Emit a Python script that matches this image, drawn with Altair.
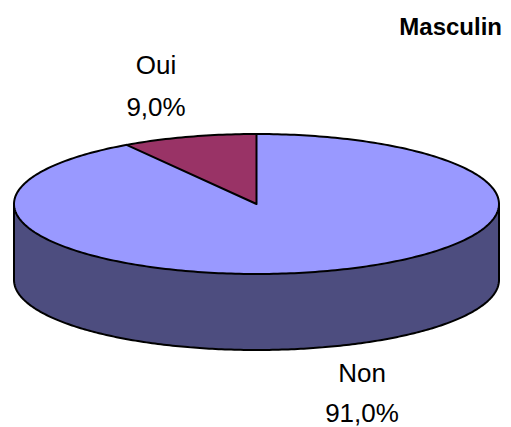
import numpy as np
import pandas as pd
import altair as alt

categories = ["Non", "Oui"]
shares = [91.0, 9.0]
share_labels = ["91,0%", "9,0%"]
title_text = "Masculin"

NON, OUI, SIDE = "#9999FF", "#993366", "#4D4D7F"
W, H = 495, 419
RX, RY, DEPTH = 242.5, 70.0, 76.0
CX, CY = 248.5, 196.0
tilt = RY / RX
depth = DEPTH / RX

xs = alt.Scale(domain=[-CX / RX, (W - CX) / RX], nice=False, zero=False)
ys = alt.Scale(domain=[-(H - CY) / RX, CY / RX], nice=False, zero=False)
X = alt.X("x:Q", scale=xs, axis=None)
Y = alt.Y("y:Q", scale=ys, axis=None)
Y2 = alt.Y2("y2:Q")

u = np.linspace(-1, 1, 241)
u = np.sign(u) * np.sin(np.abs(u) * np.pi / 2)  # denser near the rim
half = lambda v: tilt * np.sqrt(np.clip(1 - v ** 2, 0, None))

side = pd.DataFrame({"x": u, "y": -half(u), "y2": -half(u) - depth})
top = pd.DataFrame({"x": u, "y": half(u), "y2": -half(u)})

# Slice "Oui" runs from 12 o'clock counter-clockwise by its share of the circle
a = shares[1] / sum(shares) * 2 * np.pi
wx = -np.sin(a)
wy = tilt * np.cos(a)
w = np.linspace(wx, 0, 60)
wedge = pd.DataFrame({"x": w, "y": half(w), "y2": wy * (w / wx)})

area = lambda df, color: alt.Chart(df).mark_area(color=color, stroke=None, opacity=1).encode(x=X, y=Y, y2=Y2)


def outline(xv, yv):
    df = pd.DataFrame({"x": xv, "y": yv, "o": np.arange(len(xv))})
    return alt.Chart(df).mark_line(color="black", strokeWidth=2, strokeJoin="round", strokeCap="round").encode(
        x=X, y=Y, order="o:Q"
    )


t = np.linspace(0, 2 * np.pi, 361)
layers = [
    area(side, SIDE),
    area(top, NON),
    area(wedge, OUI),
    outline(np.sin(t), tilt * np.cos(t)),
    outline(u, -half(u) - depth),
    outline([-1, -1], [0, -depth]),
    outline([1, 1], [0, -depth]),
    outline([wx, 0, 0], [wy, 0, tilt]),
]


def text(label, px, py, bold=False, align="center"):
    return alt.Chart(pd.DataFrame({"t": [label]})).mark_text(
        font="Liberation Sans", fontSize=24 if bold else 26, fontWeight="bold" if bold else "normal",
        align=align, baseline="middle", color="black",
    ).encode(text="t:N", x=alt.value(px), y=alt.value(py))


layers += [
    text(categories[1], 148, 58),
    text(share_labels[1], 148, 100),
    text(categories[0], 354, 366),
    text(share_labels[0], 354, 406),
    text(title_text, 494, 20, bold=True, align="right"),
]

chart = alt.layer(*layers).properties(
    width=W, height=H, padding=0, autosize=alt.AutoSizeParams(type="none"), background="white"
).configure_view(stroke=None)

chart.save("out.html", embed_options={"renderer": "svg", "actions": False})
